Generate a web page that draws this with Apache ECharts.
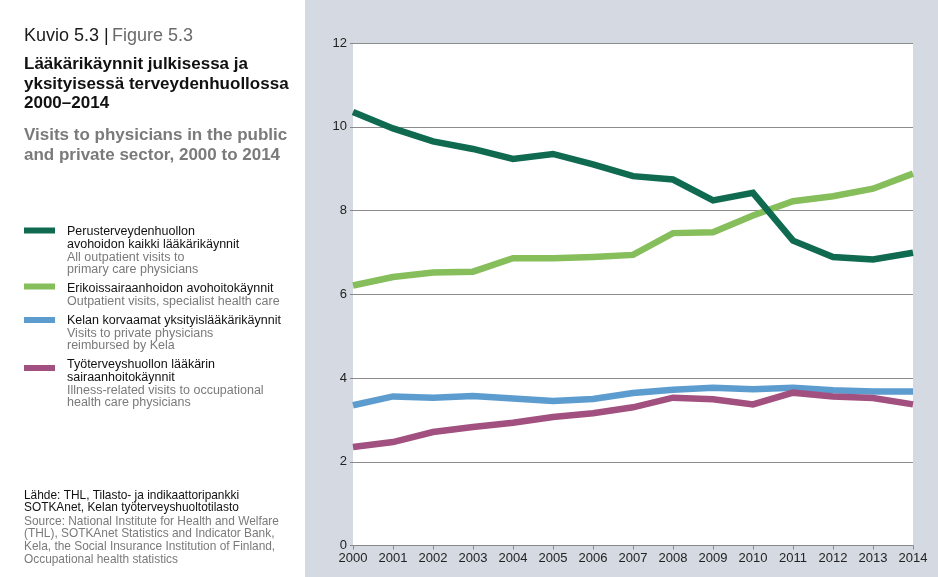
<!DOCTYPE html>
<html>
<head>
<meta charset="utf-8">
<script src="https://cdn.jsdelivr.net/npm/echarts@6/dist/echarts.min.js"></script>
<style>
html,body{margin:0;padding:0;background:#fff;}
#chart{width:938px;height:577px;}
</style>
</head>
<body>
<div id="chart"></div>
<script>
// ---- data ----
var years = ['2000','2001','2002','2003','2004','2005','2006','2007','2008','2009','2010','2011','2012','2013','2014'];
var primaryCare = [10.35, 9.96, 9.65, 9.47, 9.23, 9.35, 9.10, 8.82, 8.74, 8.24, 8.42, 7.28, 6.89, 6.83, 6.99];
var specialist = [6.21, 6.41, 6.52, 6.54, 6.86, 6.86, 6.89, 6.94, 7.46, 7.48, 7.88, 8.22, 8.34, 8.52, 8.88];
var privateKela = [3.35, 3.56, 3.53, 3.57, 3.51, 3.45, 3.50, 3.64, 3.72, 3.77, 3.73, 3.77, 3.71, 3.68, 3.68];
var occupational = [2.35, 2.47, 2.71, 2.83, 2.93, 3.07, 3.16, 3.30, 3.53, 3.49, 3.37, 3.65, 3.56, 3.52, 3.37];
var yTicks = [0, 2, 4, 6, 8, 10, 12];

var seriesNames = [
  'Perusterveydenhuollon avohoidon kaikki lääkärikäynnit',
  'Erikoissairaanhoidon avohoitokäynnit',
  'Kelan korvaamat yksityislääkärikäynnit',
  'Työterveyshuollon lääkärin sairaanhoitokäynnit'
];
var colors = ['#0f6a50', '#86be5b', '#5d9ccf', '#a1507f'];

var legendFi = [
  'Perusterveydenhuollon\navohoidon kaikki lääkärikäynnit',
  'Erikoissairaanhoidon avohoitokäynnit',
  'Kelan korvaamat yksityislääkärikäynnit',
  'Työterveyshuollon lääkärin\nsairaanhoitokäynnit'
];
var legendEn = [
  'All outpatient visits to\nprimary care physicians',
  'Outpatient visits, specialist health care',
  'Visits to private physicians\nreimbursed by Kela',
  'Illness-related visits to occupational\nhealth care physicians'
];

var FONT = '"Liberation Sans", Arial, Helvetica, sans-serif';
var chart = echarts.init(document.getElementById('chart'), null, {renderer: 'canvas'});

var graphics = [
  {type: 'rect', shape: {x: 0, y: 0, width: 305, height: 577}, style: {fill: '#ffffff'}, z: -10},
  {type: 'text', left: 24, top: 27, style: {
    text: '{a|Kuvio 5.3 |} {b|Figure 5.3}',
    rich: {a: {fontSize: 18, fontFamily: FONT, fill: '#1a1a1a', color: '#1a1a1a'}, b: {fontSize: 18, fontFamily: FONT, fill: '#6a6a6a', color: '#6a6a6a'}}
  }},
  {type: 'text', left: 24, top: 55, style: {text: 'Lääkärikäynnit julkisessa ja\nyksityisessä terveydenhuollossa\n2000–2014', font: 'bold 17px ' + FONT, lineHeight: 19.5, fill: '#111'}},
  {type: 'text', left: 24, top: 126, style: {text: 'Visits to physicians in the public\nand private sector, 2000 to 2014', font: 'bold 17px ' + FONT, lineHeight: 19.5, fill: '#7a7a7a'}},
  {type: 'text', left: 24, top: 489, style: {text: 'Lähde: THL, Tilasto- ja indikaattoripankki\nSOTKAnet, Kelan työterveyshuoltotilasto', font: '11.9px ' + FONT, lineHeight: 12.8, fill: '#111'}},
  {type: 'text', left: 24, top: 515, style: {text: 'Source: National Institute for Health and Welfare\n(THL), SOTKAnet Statistics and Indicator Bank,\nKela, the Social Insurance Institution of Finland,\nOccupational health statistics', font: '11.9px ' + FONT, lineHeight: 12.8, fill: '#7a7a7a'}}
];
var legendTops = [225.5, 282, 314, 358.5];
var swatchY = [230.5, 286.5, 320, 368];
for (var i = 0; i < 4; i++) {
  var fiLines = legendFi[i].split('\n').length;
  graphics.push({type: 'rect', shape: {x: 24, y: swatchY[i] - 3, width: 31, height: 6}, style: {fill: colors[i]}});
  graphics.push({type: 'text', left: 67, top: legendTops[i], style: {text: legendFi[i], font: '12.5px ' + FONT, lineHeight: 12.6, fill: '#111'}});
  graphics.push({type: 'text', left: 67, top: legendTops[i] + fiLines * 12.6, style: {text: legendEn[i], font: '12.5px ' + FONT, lineHeight: 12.6, fill: '#7a7a7a'}});
}

var dataSets = [primaryCare, specialist, privateKela, occupational];
var series = dataSets.map(function (d, i) {
  return {
    name: seriesNames[i], type: 'line', data: d, symbol: 'none',
    lineStyle: {color: colors[i], width: 6.5, join: 'miter'},
    itemStyle: {color: colors[i]},
    z: 3 + (i === 0 ? 1 : 0)
  };
});

chart.setOption({
  backgroundColor: '#d5dae2',
  animation: false,
  textStyle: {fontFamily: FONT},
  grid: {left: 353, right: 25, top: 43, bottom: 31.5, show: true, backgroundColor: '#ffffff', borderWidth: 0},
  xAxis: {
    type: 'category', data: years, boundaryGap: false,
    axisLine: {show: true, lineStyle: {color: '#888', width: 1}},
    axisTick: {show: true, length: 4, lineStyle: {color: '#888'}},
    axisLabel: {color: '#222', fontSize: 13, margin: 6, fontFamily: FONT},
    splitLine: {show: false}
  },
  yAxis: {
    type: 'value', min: yTicks[0], max: yTicks[yTicks.length - 1], interval: 2,
    axisLine: {show: false},
    axisTick: {show: true, length: 3, lineStyle: {color: '#888'}},
    axisLabel: {color: '#222', fontSize: 13, margin: 6, fontFamily: FONT},
    splitLine: {show: true, lineStyle: {color: '#8c8c8c', width: 1}}
  },
  graphic: graphics,
  series: series
});
</script>
</body>
</html>
